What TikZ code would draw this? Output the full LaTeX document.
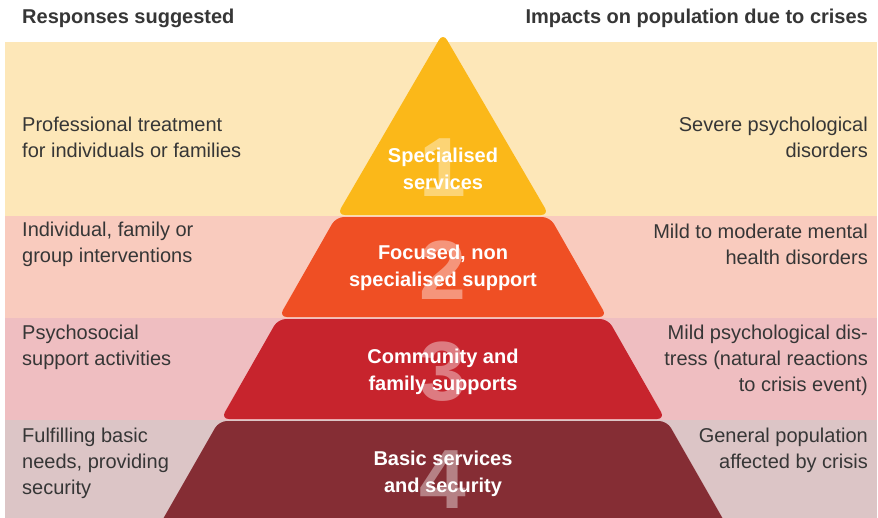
\documentclass[tikz,border=0pt]{standalone}
\usepackage{fontspec}
\setmainfont{Liberation Sans}
\definecolor{bandone}{HTML}{FDE7B8}
\definecolor{bandtwo}{HTML}{F9CBBE}
\definecolor{bandthree}{HTML}{EFBEC1}
\definecolor{bandfour}{HTML}{DCC5C6}
\definecolor{tierone}{HTML}{FBB819}
\definecolor{tiertwo}{HTML}{EF4F24}
\definecolor{tierthree}{HTML}{C7242D}
\definecolor{tierfour}{HTML}{852D34}
\definecolor{textgrey}{HTML}{363636}
\begin{document}
\begin{tikzpicture}[x=1pt,y=-1pt,
	tier_shape/.style={rounded corners=8pt},
	tier_num/.style={font=\fontsize{84}{84}\selectfont\bfseries,text=white,text opacity=0.4,inner sep=0pt},
	tier_label/.style={font=\fontsize{20}{26.5}\selectfont\bfseries,text=white,align=center,inner sep=0pt},
	left_text/.style={font=\fontsize{20}{26}\selectfont,text=textgrey,align=left,anchor=west,inner sep=0pt},
	right_text/.style={font=\fontsize{20}{26}\selectfont,text=textgrey,align=right,anchor=east,inner sep=0pt},
	head_text/.style={font=\fontsize{20}{24}\selectfont\bfseries,text=textgrey,inner sep=0pt}]
	\useasboundingbox (0,0) rectangle (878,517);
	\clip (0,0) rectangle (878,517);
	\fill[white] (0,0) rectangle (878,517);

	\fill[bandone] (5,42) rectangle (877,216);
	\fill[bandtwo] (5,216) rectangle (877,318);
	\fill[bandthree] (5,318) rectangle (877,420);
	\fill[bandfour] (5,420) rectangle (877,530);

	\fill[tierone,tier_shape] (443,33) -- (549,215) -- (337,215) -- cycle;
	\fill[tiertwo,tier_shape] (336,217) -- (550,217) -- (607,317) -- (279,317) -- cycle;
	\fill[tierthree,tier_shape] (278,319) -- (608,319) -- (665,419) -- (221,419) -- cycle;
	\fill[tierfour,tier_shape] (219,421) -- (667,421) -- (731,533) -- (155,533) -- cycle;

	\node[head_text,anchor=west] (resp) at (22,18) {Responses suggested};
	\node[head_text,anchor=east] (impact) at (868,18) {Impacts on population due to crises};

	\node[tier_num] (num1) at (443,168) {1};
	\node[tier_num] (num2) at (443,270) {2};
	\node[tier_num] (num3) at (443,372) {3};
	\node[tier_num] (num4) at (443,480) {4};

	\node[tier_label] (spec) at (443,169) {Specialised\\services};
	\node[tier_label] (focus) at (443,268) {Focused, non\\specialised support};
	\node[tier_label] (comm) at (443,372) {Community and\\family supports};
	\node[tier_label] (basic) at (443,474) {Basic services\\and security};

	\node[left_text] (treat) at (22,137) {Professional treatment\\for individuals or families};
	\node[left_text] (interv) at (22,244) {Individual, family or\\group interventions};
	\node[left_text] (psych) at (22,347) {Psychosocial\\support activities};
	\node[left_text] (needs) at (22,463) {Fulfilling basic\\needs, providing\\security};

	\node[right_text] (severe) at (868,137) {Severe psychological\\disorders};
	\node[right_text] (moder) at (868,244) {Mild to moderate mental\\health disorders};
	\node[right_text] (mild) at (868,360) {Mild psychological dis-\\tress (natural reactions\\to crisis event)};
	\node[right_text] (general) at (868,450) {General population\\affected by crisis};
\end{tikzpicture}
\end{document}
